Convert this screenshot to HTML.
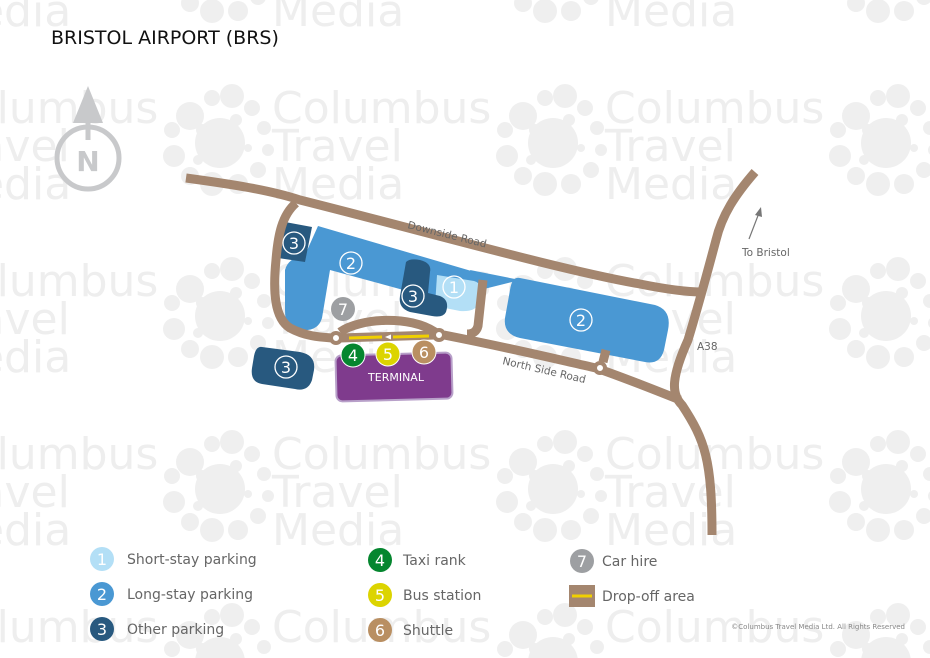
<!DOCTYPE html>
<html><head><meta charset="utf-8"><style>
html,body{margin:0;background:#fff;width:930px;height:658px;overflow:hidden}
svg{display:block;font-family:"DejaVu Sans","Liberation Sans",sans-serif}
.wm{fill:#eeeeee;font-size:44px}
</style></head><body>
<svg width="930" height="658" viewBox="0 0 930 658">
<defs>
<g id="logo" fill="#efefef">
<circle cx="0" cy="5" r="25"/>
<circle cx="-30" cy="-22" r="14"/><circle cx="-8" cy="-40" r="8"/><circle cx="12" cy="-42" r="12"/><circle cx="32" cy="-30" r="8"/>
<circle cx="44" cy="-10" r="7"/><circle cx="48" cy="12" r="6"/><circle cx="38" cy="32" r="8"/><circle cx="18" cy="46" r="10"/>
<circle cx="-8" cy="46" r="12"/><circle cx="-30" cy="38" r="9"/><circle cx="-46" cy="18" r="11"/><circle cx="-48" cy="-8" r="8"/>
<circle cx="-18" cy="-8" r="6"/><circle cx="16" cy="-18" r="6"/><circle cx="-22" cy="22" r="5"/><circle cx="28" cy="10" r="4"/>
</g>
</defs>
<g>
<use href="#logo" x="-113" y="-35"/><use href="#logo" x="220" y="-35"/><use href="#logo" x="553" y="-35"/><use href="#logo" x="886" y="-35"/>
<use href="#logo" x="-113" y="138"/><use href="#logo" x="220" y="138"/><use href="#logo" x="553" y="138"/><use href="#logo" x="886" y="138"/>
<use href="#logo" x="-113" y="311"/><use href="#logo" x="220" y="311"/><use href="#logo" x="553" y="311"/><use href="#logo" x="886" y="311"/>
<use href="#logo" x="-113" y="484"/><use href="#logo" x="220" y="484"/><use href="#logo" x="553" y="484"/><use href="#logo" x="886" y="484"/>
<use href="#logo" x="-113" y="657"/><use href="#logo" x="220" y="657"/><use href="#logo" x="553" y="657"/><use href="#logo" x="886" y="657"/>
</g>
<g class="wm">
<text x="-61" y="-50">Columbus<tspan x="-61" dy="38">Travel</tspan><tspan x="-61" dy="38">Media</tspan></text>
<text x="272" y="-50">Columbus<tspan x="272" dy="38">Travel</tspan><tspan x="272" dy="38">Media</tspan></text>
<text x="605" y="-50">Columbus<tspan x="605" dy="38">Travel</tspan><tspan x="605" dy="38">Media</tspan></text>
<text x="-61" y="123">Columbus<tspan x="-61" dy="38">Travel</tspan><tspan x="-61" dy="38">Media</tspan></text>
<text x="272" y="123">Columbus<tspan x="272" dy="38">Travel</tspan><tspan x="272" dy="38">Media</tspan></text>
<text x="605" y="123">Columbus<tspan x="605" dy="38">Travel</tspan><tspan x="605" dy="38">Media</tspan></text>
<text x="-61" y="296">Columbus<tspan x="-61" dy="38">Travel</tspan><tspan x="-61" dy="38">Media</tspan></text>
<text x="272" y="296">Columbus<tspan x="272" dy="38">Travel</tspan><tspan x="272" dy="38">Media</tspan></text>
<text x="605" y="296">Columbus<tspan x="605" dy="38">Travel</tspan><tspan x="605" dy="38">Media</tspan></text>
<text x="-61" y="469">Columbus<tspan x="-61" dy="38">Travel</tspan><tspan x="-61" dy="38">Media</tspan></text>
<text x="272" y="469">Columbus<tspan x="272" dy="38">Travel</tspan><tspan x="272" dy="38">Media</tspan></text>
<text x="605" y="469">Columbus<tspan x="605" dy="38">Travel</tspan><tspan x="605" dy="38">Media</tspan></text>
<text x="-61" y="642">Columbus</text><text x="272" y="642">Columbus</text><text x="605" y="642">Columbus</text>
</g>

<text x="51" y="44" font-size="19" fill="#111">BRISTOL AIRPORT (BRS)</text>

<g fill="none" stroke="#c8c9cb" stroke-width="5">
<circle cx="88" cy="158" r="31"/>
</g>
<polygon points="88,86 73,123 103,123" fill="#c8c9cb"/>
<line x1="88" y1="110" x2="88" y2="140" stroke="#c8c9cb" stroke-width="5"/>
<text x="88" y="171" font-size="28" font-weight="bold" fill="#c8c9cb" text-anchor="middle">N</text>

<g fill="#4a98d3">
<path d="M318,226 L485,275 L482,300 L440,300 L330,270 L322,318 Q318,332 300,330 L295,330 Q285,328 285,310 L285,270 Q288,258 305,255 Z"/>
<path d="M470,270 L520,280 L480,290 Z"/>
<path d="M520,278 L655,305 Q672,310 668,330 L664,350 Q660,365 645,362 L520,338 Q503,334 505,318 L510,290 Q512,276 520,278 Z"/>
</g>
<path d="M437,275 L474,281 Q484,284 482,298 L478,305 Q474,312 460,311 L435,306 Z" fill="#b3dff6"/>
<g fill="#28597f">
<path d="M285,222 L312,227 L305,262 L278,258 Z"/>
<path d="M406,262 Q410,258 420,260 Q432,263 430,272 L428,293 L440,296 Q450,300 446,312 Q443,318 432,316 L410,312 Q398,308 400,296 Z"/>
<path d="M262,347 L300,352 Q316,355 314,370 L312,380 Q308,392 295,389 L262,384 Q250,382 252,368 L254,356 Q256,346 262,347 Z"/>
</g>

<rect x="336" y="354" width="116" height="46" rx="6" fill="#7f3b8d" stroke="#b8a0c9" stroke-width="2" transform="rotate(-1.5 394 377)"/>
<text x="396" y="381" font-size="11" fill="#fff" text-anchor="middle">TERMINAL</text>

<g fill="none" stroke="#a4866f" stroke-width="9" stroke-linejoin="round" stroke-linecap="butt">
<path d="M186,178 C230,184 270,190 300,200 C420,230 560,270 640,284 C670,290 690,292 702,292"/>
<path d="M755,172 C735,195 722,215 716,240 C708,270 700,300 688,340 C670,380 672,395 682,405 C705,440 712,460 712,535"/>
<path d="M296,203 C282,215 278,235 276,260 C273,290 274,318 290,328 C305,336 318,337 332,338"/>
<path d="M340,338 L435,335"/>
<path d="M340,332 C360,318 410,315 435,332"/>
<path d="M444,335 C520,350 560,360 596,368 C625,378 650,388 680,400"/>
<path d="M483,280 L478,326 Q476,334 467,334"/>
<path d="M606,350 L603,362"/>
</g>
<g fill="#fff" stroke="#a4866f" stroke-width="4">
<circle cx="336" cy="338" r="5"/><circle cx="439" cy="335" r="5"/><circle cx="600" cy="368" r="5"/>
</g>
<line x1="349" y1="338" x2="382" y2="337" stroke="#f0d000" stroke-width="3"/>
<line x1="393" y1="337" x2="429" y2="336" stroke="#f0d000" stroke-width="3"/>
<polygon points="385,337 391,334.5 391,339.5" fill="#fff"/>

<g font-size="16" fill="#fff" text-anchor="middle">
<circle cx="294" cy="243" r="11" fill="none" stroke="#fff" stroke-width="1.3"/><text x="294" y="249">3</text>
<circle cx="351" cy="263" r="11" fill="none" stroke="#fff" stroke-width="1.3"/><text x="351" y="269">2</text>
<circle cx="413" cy="296" r="11" fill="none" stroke="#fff" stroke-width="1.3"/><text x="413" y="302">3</text>
<circle cx="454" cy="287" r="11" fill="none" stroke="#fff" stroke-width="1.3"/><text x="454" y="293">1</text>
<circle cx="581" cy="320" r="11" fill="none" stroke="#fff" stroke-width="1.3"/><text x="581" y="326">2</text>
<circle cx="286" cy="367" r="11" fill="none" stroke="#fff" stroke-width="1.3"/><text x="286" y="373">3</text>
<circle cx="343" cy="309" r="12" fill="#9d9fa2"/><text x="343" y="315">7</text>
<circle cx="353" cy="355" r="12" fill="#05862f" stroke="#fff" stroke-width="1"/><text x="353" y="361">4</text>
<circle cx="388" cy="354" r="12" fill="#dcd400" stroke="#fff" stroke-width="1"/><text x="388" y="360">5</text>
<circle cx="424" cy="352" r="12" fill="#b98f62" stroke="#fff" stroke-width="1"/><text x="424" y="358">6</text>
</g>

<g font-size="10.5" fill="#666">
<text x="407" y="228" transform="rotate(14 407 228)">Downside Road</text>
<text x="502" y="364" transform="rotate(13 502 364)">North Side Road</text>
<text x="697" y="350">A38</text>
<text x="742" y="256">To Bristol</text>
</g>
<line x1="749" y1="239" x2="759" y2="213" stroke="#777" stroke-width="1.2"/>
<polygon points="761,207 755,215 762,217" fill="#777"/>

<g font-size="14" fill="#666">
<circle cx="102" cy="559" r="12" fill="#b3dff6"/><text x="102" y="565" fill="#fff" text-anchor="middle" font-size="16">1</text>
<text x="127" y="564">Short-stay parking</text>
<circle cx="102" cy="594" r="12" fill="#4a98d3"/><text x="102" y="600" fill="#fff" text-anchor="middle" font-size="16">2</text>
<text x="127" y="599">Long-stay parking</text>
<circle cx="102" cy="629" r="12" fill="#28597f"/><text x="102" y="635" fill="#fff" text-anchor="middle" font-size="16">3</text>
<text x="127" y="634">Other parking</text>
<circle cx="380" cy="560" r="12" fill="#05862f"/><text x="380" y="566" fill="#fff" text-anchor="middle" font-size="16">4</text>
<text x="403" y="565">Taxi rank</text>
<circle cx="380" cy="595" r="12" fill="#dcd400"/><text x="380" y="601" fill="#fff" text-anchor="middle" font-size="16">5</text>
<text x="403" y="600">Bus station</text>
<circle cx="380" cy="630" r="12" fill="#b98f62"/><text x="380" y="636" fill="#fff" text-anchor="middle" font-size="16">6</text>
<text x="403" y="635">Shuttle</text>
<circle cx="582" cy="561" r="12" fill="#9d9fa2"/><text x="582" y="567" fill="#fff" text-anchor="middle" font-size="16">7</text>
<text x="602" y="566">Car hire</text>
<rect x="569" y="585" width="26" height="22" fill="#a4866f"/>
<line x1="572" y1="596" x2="592" y2="596" stroke="#f0d000" stroke-width="3"/>
<text x="602" y="601">Drop-off area</text>
</g>
<text x="905" y="629" font-size="7" fill="#888" text-anchor="end">©Columbus Travel Media Ltd. All Rights Reserved</text>
</svg>
</body></html>
